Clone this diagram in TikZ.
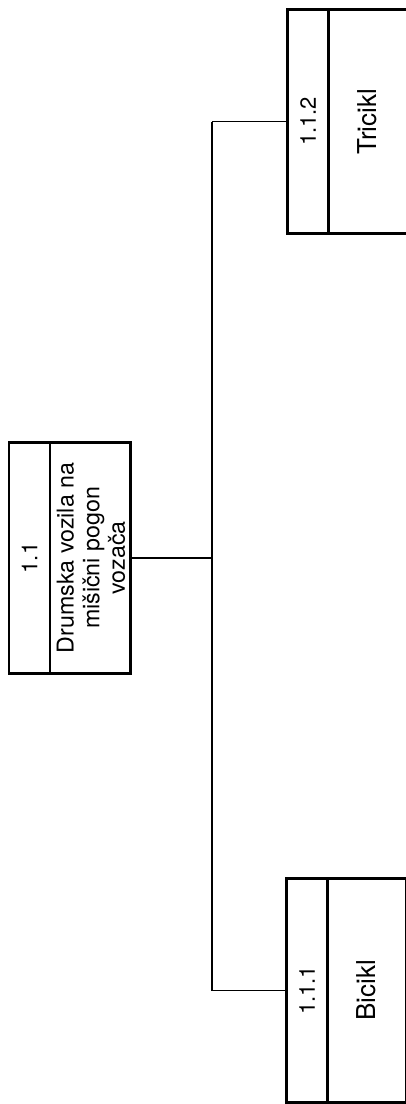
\documentclass[tikz,border=0pt]{standalone}
\usepackage{fontspec}
\setmainfont{TeX Gyre Heros}
\usetikzlibrary{positioning}

\begin{document}
\begin{tikzpicture}[x=0.5pt,y=-0.5pt,
  hdr/.style={draw,line width=.6pt,inner sep=0pt,minimum width=20pt,minimum height=#1,font=\fontsize{11}{12}\selectfont},
  body/.style={draw,line width=.6pt,inner sep=0pt,minimum width=38.5pt,minimum height=#1,font=\fontsize{11.6}{12.8}\selectfont},
  word/.style={font=\fontsize{13}{14}\selectfont},
  frame/.style={line width=1.3pt},
  link/.style={line width=.6pt},
  trunk/.style={line width=.9pt}]
\useasboundingbox (0,0) rectangle (406,1104);
\node[hdr=115pt] (h11) at (29.5,558) {\rotatebox{90}{1.1}};
\node[body=115pt,minimum width=39.5pt,right=0pt of h11,
  label={[xshift=2pt,inner sep=0pt,font=\fontsize{11.6}{12.8}\selectfont]center:\rotatebox{90}{\begin{tabular}{@{}c@{}}Drumska vozila na\\mišični pogon\\vozača\end{tabular}}}] (b11) {};
\node[hdr=111.5pt] (h111) at (307,990.5) {\rotatebox{90}{1.1.1}};
\node[body=111.5pt,word,right=0pt of h111] (b111) {\rotatebox{90}{Bicikl}};
\node[hdr=111.5pt] (h112) at (308,121.5) {\rotatebox{90}{1.1.2}};
\node[body=111.5pt,word,right=0pt of h112] (b112) {\rotatebox{90}{Tricikl}};
\draw[frame] (h11.north west) rectangle (b11.south east);
\draw[frame] (h111.north west) rectangle (b111.south east);
\draw[frame] (h112.north west) rectangle (b112.south east);
\coordinate (j) at (212,558);
\draw[link] (b11.east) -- (j);
\draw[trunk] (h112.west -| j) -- (h111.west -| j);
\draw[link] (h112.west -| j) -- (h112.west);
\draw[link] (h111.west -| j) -- (h111.west);
\end{tikzpicture}
\end{document}
